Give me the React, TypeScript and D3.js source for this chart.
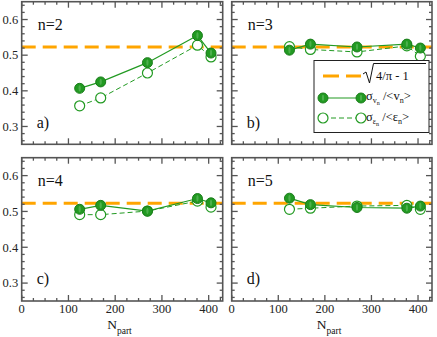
import React from "react";
import * as d3 from "d3";

const npart = [124, 169, 269, 376, 405];
const panelNames = ["n=2", "n=3", "n=4", "n=5"];
const panelLetters = ["a)", "b)", "c)", "d)"];
const sigmaV = [
  [0.407, 0.425, 0.479, 0.555, 0.506],
  [0.514, 0.531, 0.523, 0.531, 0.52],
  [0.506, 0.517, 0.501, 0.536, 0.524],
  [0.537, 0.519, 0.511, 0.509, 0.515],
];
const sigmaE = [
  [0.358, 0.38, 0.45, 0.528, 0.495],
  [0.524, 0.516, 0.509, 0.526, 0.497],
  [0.491, 0.491, 0.501, 0.529, 0.512],
  [0.506, 0.509, 0.515, 0.517, 0.506],
];
const xTicks = [0, 100, 200, 300, 400];
const yTicks = [0.3, 0.4, 0.5, 0.6];
const refValue = Math.sqrt(4 / Math.PI - 1);

const W = 437;
const H = 337;
const panels = [
  { x0: 21.7, x1: 222.7, y0: 1.7, y1: 144.3 },
  { x0: 231.7, x1: 432, y0: 1.7, y1: 144.3 },
  { x0: 21.7, x1: 222.7, y0: 157.7, y1: 301 },
  { x0: 231.7, x1: 432, y0: 157.7, y1: 301 },
];

const GREEN = "#229a22";
const GREEN_DARK = "#1a7d1a";
const ORANGE = "#ffa500";
const AXIS = "#555";
const FONT = "'Liberation Serif', 'DejaVu Serif', serif";

function Panel({ idx }: { idx: number }) {
  const p = panels[idx];
  const x = d3.scaleLinear().domain([0, 430]).range([p.x0, p.x1]);
  const y = d3.scaleLinear().domain([0.25, 0.65]).range([p.y1, p.y0]);
  const line = d3
    .line<number>()
    .x((_, i) => x(npart[i]))
    .y((d) => y(d));
  const xMinor = d3.range(0, 430, 25);
  const yMinor = d3.range(0.26, 0.65, 0.02);
  const isLeft = idx % 2 === 0;
  const isBottom = idx >= 2;
  const maj = 6;
  const min = 3;
  return (
    <g>
      <line
        x1={p.x0}
        x2={p.x1}
        y1={y(refValue)}
        y2={y(refValue)}
        stroke={ORANGE}
        strokeWidth={3}
        strokeDasharray="14,7"
      />
      <path d={line(sigmaE[idx]) || ""} fill="none" stroke={GREEN} strokeWidth={1} strokeDasharray="5,3" />
      <path d={line(sigmaV[idx]) || ""} fill="none" stroke={GREEN} strokeWidth={1.2} />
      {sigmaE[idx].map((v, i) => (
        <circle key={"e" + i} cx={x(npart[i])} cy={y(v)} r={5} fill="white" stroke={GREEN} strokeWidth={1.2} />
      ))}
      {sigmaV[idx].map((v, i) => (
        <g key={"v" + i}>
          <circle cx={x(npart[i])} cy={y(v)} r={5} fill={GREEN} stroke={GREEN_DARK} strokeWidth={1} />
          <ellipse cx={x(npart[i])} cy={y(v)} rx={1.1} ry={3.2} fill="#4cb04c" />
        </g>
      ))}
      <rect x={p.x0} y={p.y0} width={p.x1 - p.x0} height={p.y1 - p.y0} fill="none" stroke={AXIS} strokeWidth={1.6} />
      {xMinor.map((t) => {
        const len = t % 100 === 0 ? maj : min;
        return (
          <g key={"xt" + t}>
            <line x1={x(t)} x2={x(t)} y1={p.y1} y2={p.y1 - len} stroke={AXIS} strokeWidth={1.3} />
            <line x1={x(t)} x2={x(t)} y1={p.y0} y2={p.y0 + len} stroke={AXIS} strokeWidth={1.3} />
          </g>
        );
      })}
      {yMinor.map((t, i) => {
        const isMaj = Math.abs(t * 10 - Math.round(t * 10)) < 1e-6;
        const len = isMaj ? maj : min;
        return (
          <g key={"yt" + i}>
            <line x1={p.x0} x2={p.x0 + len} y1={y(t)} y2={y(t)} stroke={AXIS} strokeWidth={1.3} />
            <line x1={p.x1} x2={p.x1 - len} y1={y(t)} y2={y(t)} stroke={AXIS} strokeWidth={1.3} />
          </g>
        );
      })}
      {isLeft &&
        yTicks.map((t) => (
          <text
            key={"yl" + t}
            x={p.x0 - 3.5}
            y={y(t) + 4.3}
            textAnchor="end"
            fontFamily={FONT}
            fontSize={12.5}
            fill="#222"
          >
            {t.toFixed(1)}
          </text>
        ))}
      {isBottom &&
        xTicks.map((t) => (
          <text key={"xl" + t} x={x(t)} y={313} textAnchor="middle" fontFamily={FONT} fontSize={12.5} fill="#222">
            {t}
          </text>
        ))}
      {isBottom && (
        <text x={(p.x0 + p.x1) / 2 - 15} y={329} fontFamily={FONT} fontSize={13.5} fill="#111">
          N
          <tspan dy={4.5} fontSize={9.5}>
            part
          </tspan>
        </text>
      )}
      <text x={p.x0 + 16} y={p.y0 + 28} fontFamily={FONT} fontSize={16} fill="#111">
        {panelNames[idx]}
      </text>
      <text x={p.x0 + 15} y={p.y0 + 126} fontFamily={FONT} fontSize={16} fill="#111">
        {panelLetters[idx]}
      </text>
    </g>
  );
}

function Legend() {
  const bx = 314;
  const by = 60.5;
  const bw = 115;
  const bh = 72;
  const lx0 = 323;
  const lx1 = 361;
  const r1 = 76;
  const r2 = 98;
  const r3 = 118;
  return (
    <g>
      <rect x={bx} y={by} width={bw} height={bh} fill="white" stroke="#222" strokeWidth={1} />
      <line x1={lx0} x2={lx1} y1={r1} y2={r1} stroke={ORANGE} strokeWidth={3} strokeDasharray="16,7" />
      <path d="M363,74 L366,72 L369.5,83 L373.5,63.5 L426,63.5" fill="none" stroke="#111" strokeWidth={1} />
      <text x={376} y={80} fontFamily={FONT} fontSize={12.5} fill="#111">
        4/π - 1
      </text>
      <line x1={lx0} x2={lx1} y1={r2} y2={r2} stroke={GREEN} strokeWidth={1.2} />
      {[lx0, lx1].map((cx) => (
        <g key={"lv" + cx}>
          <circle cx={cx} cy={r2} r={5} fill={GREEN} stroke={GREEN_DARK} strokeWidth={1} />
          <ellipse cx={cx} cy={r2} rx={1.1} ry={3.2} fill="#4cb04c" />
        </g>
      ))}
      <line x1={lx0} x2={lx1} y1={r3} y2={r3} stroke={GREEN} strokeWidth={1} strokeDasharray="5,3" />
      {[lx0, lx1].map((cx) => (
        <circle key={"le" + cx} cx={cx} cy={r3} r={5} fill="white" stroke={GREEN} strokeWidth={1.2} />
      ))}
      <text x={366} y={100} fontFamily={FONT} fontSize={12.5} fill="#111">
        σ
        <tspan dy={3} fontSize={8}>
          v
        </tspan>
        <tspan dy={2} fontSize={6}>
          n
        </tspan>
        <tspan dy={-5} fontSize={12.5}>
          {" /<v"}
        </tspan>
        <tspan dy={3} fontSize={8}>
          n
        </tspan>
        <tspan dy={-3} fontSize={12.5}>
          {">"}
        </tspan>
      </text>
      <text x={366} y={121} fontFamily={FONT} fontSize={12.5} fill="#111">
        σ
        <tspan dy={3} fontSize={8}>
          ε
        </tspan>
        <tspan dy={2} fontSize={6}>
          n
        </tspan>
        <tspan dy={-5} fontSize={12.5}>
          {" /<ε"}
        </tspan>
        <tspan dy={3} fontSize={8}>
          n
        </tspan>
        <tspan dy={-3} fontSize={12.5}>
          {">"}
        </tspan>
      </text>
    </g>
  );
}

export default function App() {
  return (
    <div style={{ position: "fixed", left: 0, top: 0 }}>
      <svg width={W} height={H} style={{ display: "block", background: "white" }}>
        {panels.map((_, i) => (
          <Panel key={i} idx={i} />
        ))}
        <Legend />
      </svg>
    </div>
  );
}
